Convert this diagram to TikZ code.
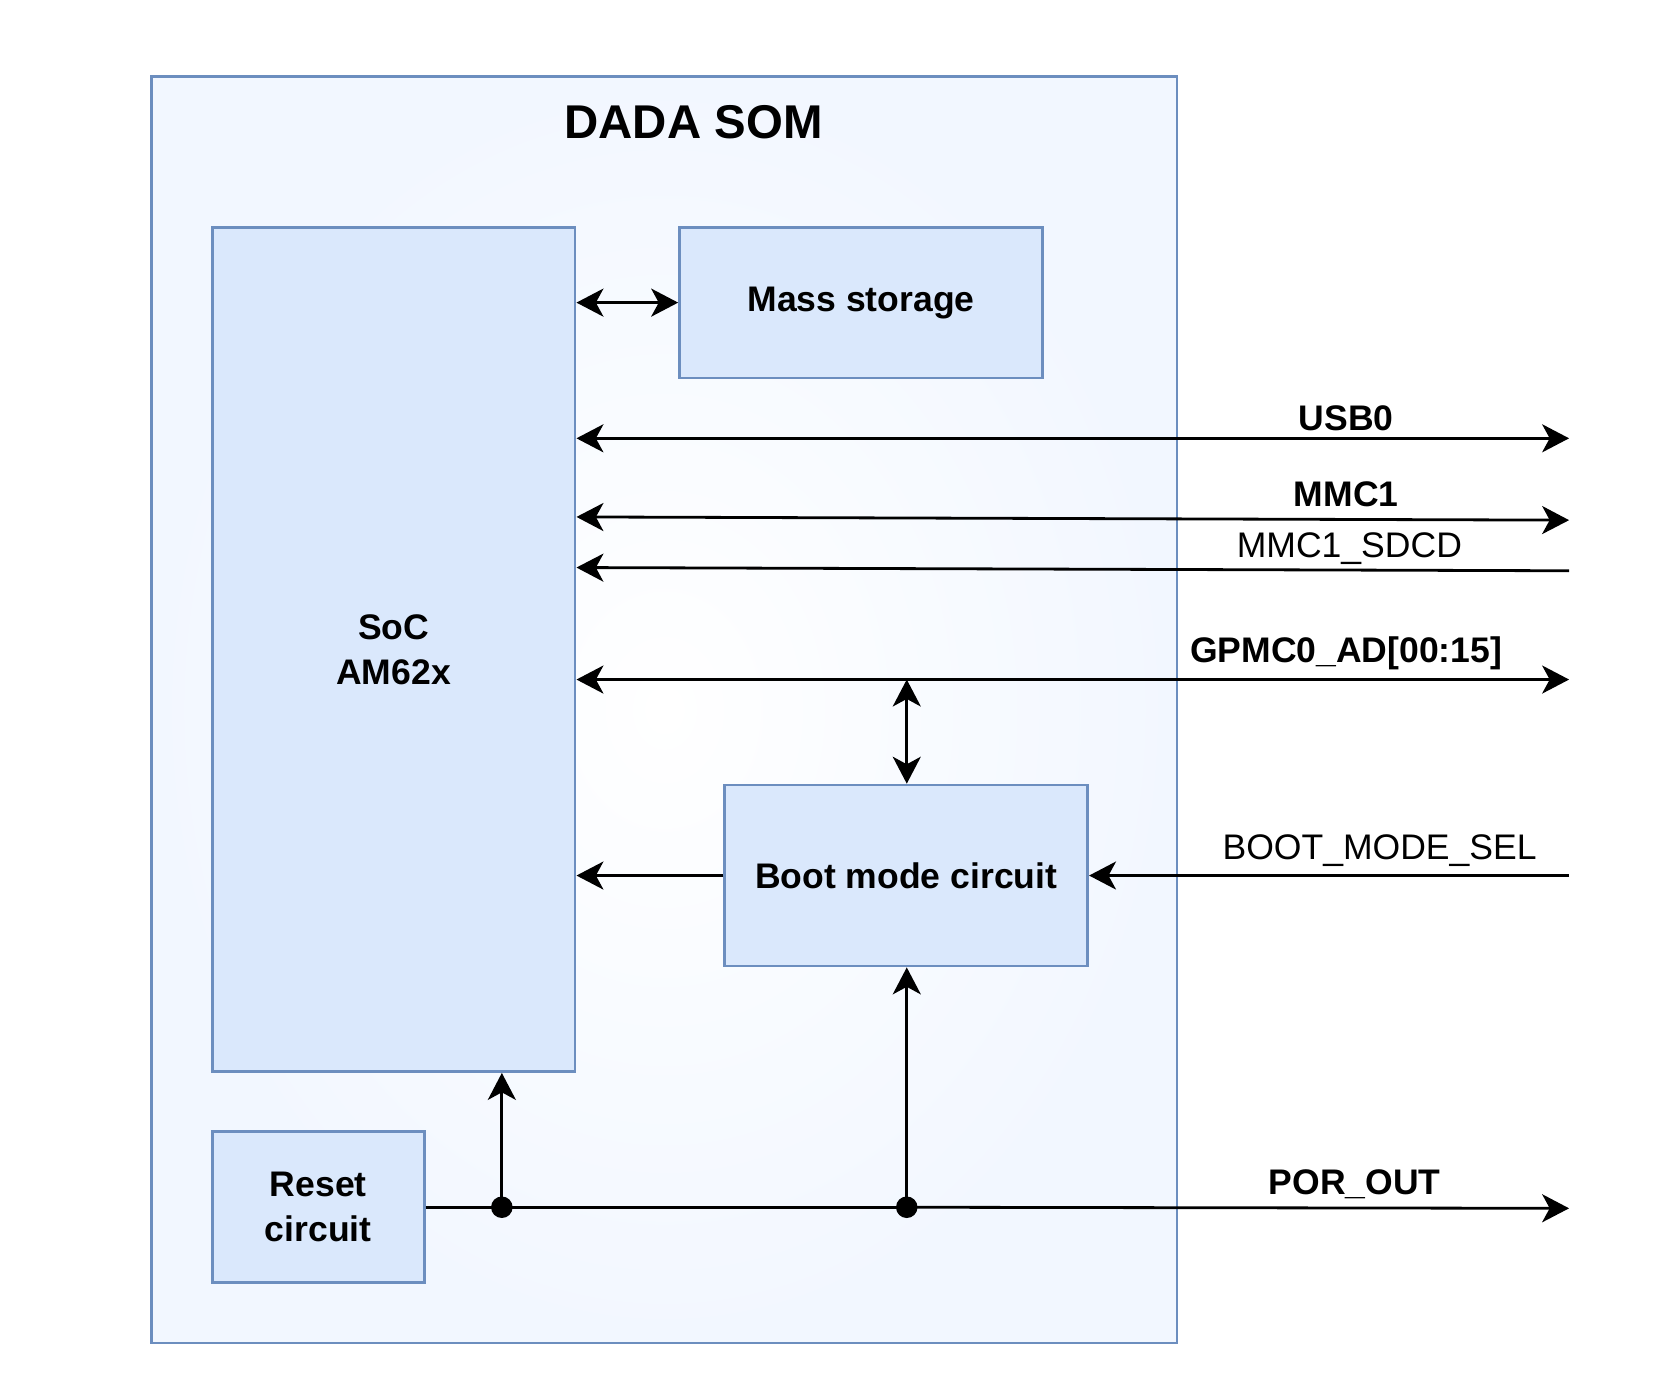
\documentclass[tikz,border=0pt]{standalone}
\usepackage{fontspec}
\setmainfont{Liberation Sans}
\usetikzlibrary{arrows.meta}
\definecolor{boxfill}{HTML}{DAE8FC}
\definecolor{boxline}{HTML}{6C8EBF}
\definecolor{somfill}{HTML}{F2F7FF}
\begin{document}
\begin{tikzpicture}[x=1pt,y=-1pt,
  blk/.style={draw=boxline, fill=boxfill, line width=2.6pt, inner sep=0pt,
    font=\fontsize{33}{42}\selectfont\bfseries, align=center},
  wire/.style={line width=2.6pt, draw=black},
  tip/.style={-{Stealth[length=25pt,width=26pt,inset=7pt]}},
  tips/.style={{Stealth[length=25pt,width=26pt,inset=7pt]}-{Stealth[length=25pt,width=26pt,inset=7pt]}},
  lblb/.style={anchor=base, inner sep=0pt, font=\fontsize{33}{40}\selectfont\bfseries},
  lbln/.style={anchor=base, inner sep=0pt, font=\fontsize{33}{40}\selectfont},
  dot/.style={fill=black}
]
\useasboundingbox (0,0) rectangle (1560,1295.4);
% outer SOM box
\node[draw=boxline, line width=2.6pt, inner color=white, outer color=somfill,
      minimum width=952pt, minimum height=1176pt, inner sep=0pt] (som) at (617,659) {};
\node[anchor=base, inner sep=0pt, font=\fontsize{44}{50}\selectfont\bfseries] (title) at (644,129) {DADA SOM};
% blocks
\node[blk, minimum width=337pt, minimum height=784pt] (soc) at (365.5,603) {SoC\\AM62x};
\node[blk, minimum width=337pt, minimum height=140pt] (mass) at (799.5,281) {Mass storage};
\node[blk, minimum width=337pt, minimum height=168pt] (boot) at (841.5,813) {Boot mode circuit};
\node[blk, minimum width=197pt, minimum height=140pt] (reset) at (295.5,1121) {Reset\\circuit};
% free ends
\coordinate (usbR) at (1457,407);
\coordinate (mmcR) at (1457,483);
\coordinate (sdcdR) at (1457,530);
\coordinate (gpmcR) at (1457,631);
\coordinate (bmsR) at (1457,813);
\coordinate (porR) at (1457,1122);
\coordinate (g) at (842,631);
\coordinate (j1) at (466,1121);
\coordinate (j2) at (842,1121);
% connectors
\draw[wire,tips] (soc.east |- mass.west) -- (mass.west);
\draw[wire,tips] (soc.east |- usbR) -- (usbR);
\draw[wire,tips] (soc.east |- 0,480) -- (mmcR);
\draw[wire,tip] (sdcdR) -- (soc.east |- 0,527);
\draw[wire,tips] (soc.east |- gpmcR) -- (gpmcR);
\draw[wire,tips] (g) -- (g |- boot.north);
\draw[wire,tip] (boot.west) -- (soc.east |- boot.west);
\draw[wire,tip] (bmsR) -- (boot.east);
\draw[wire] (reset.east |- j1) -- (j1) -- (j2);
\draw[wire,tip] (j2) -- (porR);
\draw[wire,tip] (j1) -- (j1 |- soc.south);
\draw[wire,tip] (j2) -- (j2 |- boot.south);
\fill[dot] (j1) circle (10pt);
\fill[dot] (j2) circle (10pt);
% labels
\node[lblb] (usbL) at (1250,400) {USB0};
\node[lblb] (mmcL) at (1250,470) {MMC1};
\node[lbln] (sdcdL) at (1253,518) {MMC1\_SDCD};
\node[lblb] (gpmcL) at (1250,615) {GPMC0\_AD[00:15]};
\node[lbln] (bmsL) at (1281,798) {BOOT\_MODE\_SEL};
\node[lblb] (porL) at (1258,1109) {POR\_OUT};
\end{tikzpicture}
\end{document}
